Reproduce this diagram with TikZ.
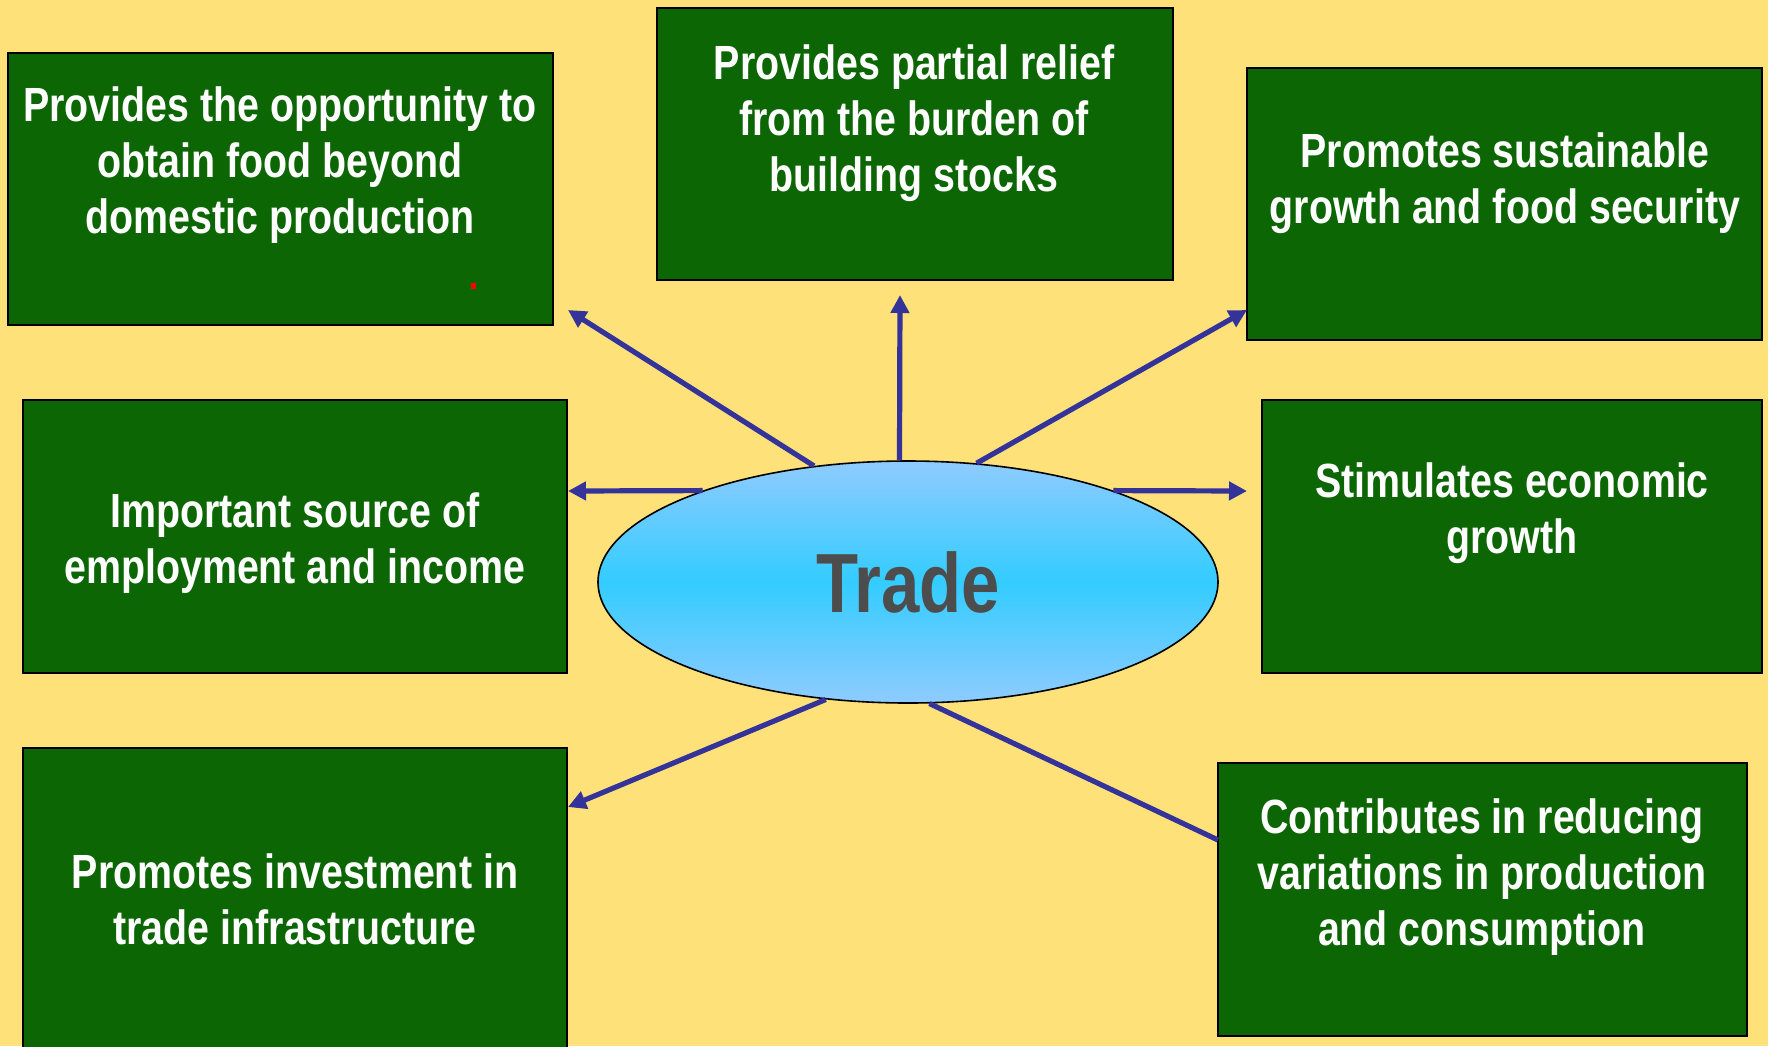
\documentclass[tikz,border=0pt]{standalone}
\usepackage{fontspec}
\setmainfont{Liberation Sans}
\newfontfamily\nb[FakeStretch=0.82]{Liberation Sans}
\usetikzlibrary{arrows.meta,shapes.geometric}
\definecolor{bg}{RGB}{255,225,122}
\definecolor{boxgreen}{RGB}{12,102,4}
\definecolor{arrowblue}{RGB}{51,51,153}
\definecolor{tradegrey}{RGB}{77,77,77}
\definecolor{ellTop}{RGB}{143,203,255}
\definecolor{ellMid}{RGB}{51,204,255}
\begin{document}
\begin{tikzpicture}[x=0.5pt,y=-0.5pt,
  greenbox/.style={draw=black,line width=0.8pt,fill=boxgreen,inner sep=0pt},
  txt/.style={text=white,font=\nb\bfseries\fontsize{24}{28}\selectfont,align=center,inner sep=0pt},
  arr/.style={draw=arrowblue,line width=2.6pt,-{Triangle[length=9pt,width=9pt]}},
  plainline/.style={draw=arrowblue,line width=2.6pt}]
\useasboundingbox (0,0) rectangle (1768,1046);
\clip (0,0) rectangle (1768,1046);
\fill[bg] (0,0) rectangle (1768,1046);

% boxes
\node[greenbox,minimum width=272.5pt,minimum height=136pt] (b1) at (280.5,189) {};
\node[greenbox,minimum width=258pt,minimum height=136pt] (b2) at (915,144) {};
\node[greenbox,minimum width=257.5pt,minimum height=136pt] (b3) at (1504.5,204) {};
\node[greenbox,minimum width=272pt,minimum height=136.5pt] (b4) at (295,536.5) {};
\node[greenbox,minimum width=250pt,minimum height=136.5pt] (b5) at (1512,536.5) {};
\node[greenbox,minimum width=272pt,minimum height=156pt] (b6) at (295,904) {};
\node[greenbox,minimum width=264.5pt,minimum height=136.5pt] (b7) at (1482.5,899.5) {};

% texts
\node[txt] (t1) at (280,165) {Provides the opportunity to\\obtain food beyond\\domestic production};
\node[txt] (t2) at (914,123) {Provides partial relief\\from the burden of\\building stocks};
\node[txt] (t3) at (1505,183) {Promotes sustainable\\growth and food security};
\node[txt] (t4) at (295,543) {Important source of\\employment and income};
\node[txt] (t5) at (1512,513) {Stimulates economic\\growth};
\node[txt] (t6) at (295,899) {Promotes investment in\\trade infrastructure};
\node[txt] (t7) at (1482,877) {Contributes in reducing\\variations in production\\and consumption};

% red mark
\fill[red] (471,283) rectangle (476,289);

% central ellipse
\node[ellipse,draw=black,line width=0.8pt,minimum width=310pt,minimum height=121pt,inner sep=0pt,
  top color=ellTop,bottom color=ellTop,middle color=ellMid,
  text=tradegrey,font=\nb\bfseries\fontsize{42}{50}\selectfont] (trade) at (908,582) {Trade};

% arrow ends
\coordinate (c1) at (568,310);
\coordinate (c2) at (900,295);
\coordinate (c3) at (1247,310);
\coordinate (c4) at (568,491);
\coordinate (c5) at (1247,491);
\coordinate (c6) at (568,807);
\coordinate (c7) at (1218,840);

\draw[arr] (trade.129.5) -- (c1);
\draw[arr] (trade.94) -- (c2);
\draw[arr] (trade.60.3) -- (c3);
\draw[arr] (trade.156.2) -- (c4);
\draw[arr] (trade.24) -- (c5);
\draw[arr] (trade.235.5) -- (c6);
\draw[plainline] (trade.280.5) -- (c7);
\end{tikzpicture}
\end{document}
